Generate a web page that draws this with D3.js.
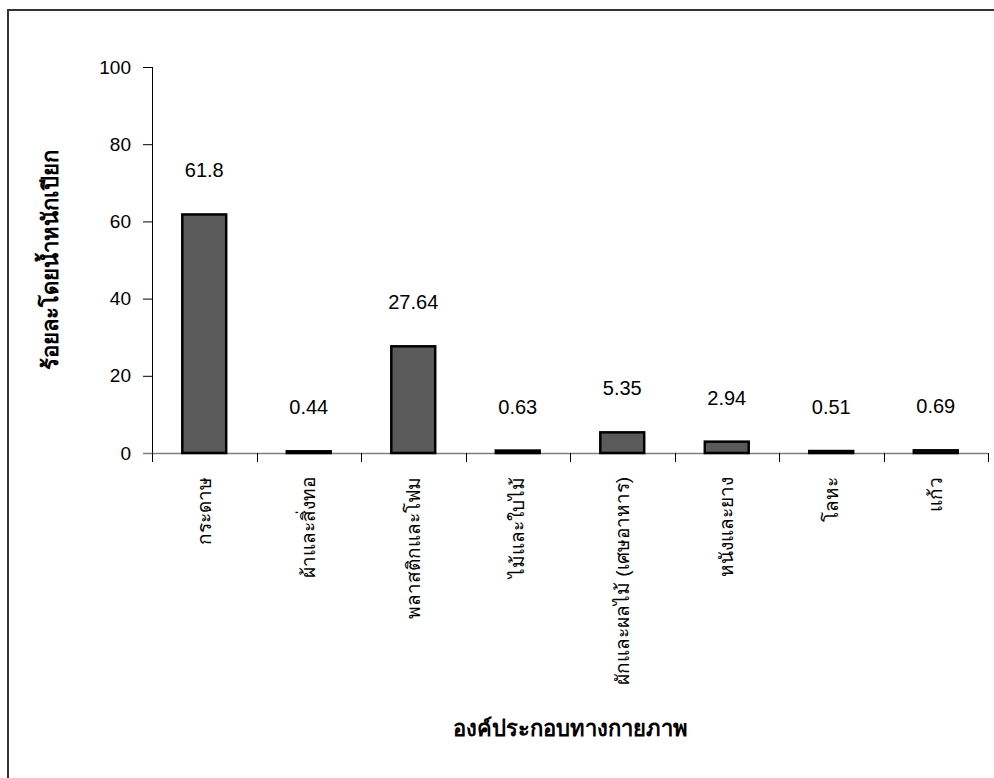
<!DOCTYPE html>
<html>
<head>
<meta charset="utf-8">
<script src="https://cdn.jsdelivr.net/npm/d3@7"></script>
<style>
  body { margin: 0; background: #fff; overflow: hidden; }
  svg { display: block; }
  text { font-family: "Liberation Sans", Arial, "Noto Sans", sans-serif; fill: #000; }
</style>
</head>
<body>
<script>
// categories and values (percent by wet weight)
var categories = ["กระดาษ", "ผ้าและสิ่งทอ", "พลาสติกและโฟม", "ไม้และใบไม้",
                  "ผักและผลไม้ (เศษอาหาร)", "หนังและยาง", "โลหะ", "แก้ว"];
var values = [61.8, 0.44, 27.64, 0.63, 5.35, 2.94, 0.51, 0.69];
var labels = ["61.8", "0.44", "27.64", "0.63", "5.35", "2.94", "0.51", "0.69"];
var yTicks = [0, 20, 40, 60, 80, 100];

var width = 994, height = 778;

var svg = d3.select("body").append("svg")
    .attr("width", width)
    .attr("height", height);

// outer frame (runs off the right and bottom edges)
svg.append("rect")
    .attr("x", 8).attr("y", 10)
    .attr("width", 1100).attr("height", 900)
    .attr("fill", "none")
    .attr("stroke", "#333")
    .attr("stroke-width", 2);

// scales
var x = d3.scaleBand().domain(categories).range([152, 988]);
var y = d3.scaleLinear().domain([0, 100]).range([453, 67]);
var barW = x.bandwidth() * 0.42;

// y axis
var yAxis = svg.append("g")
    .attr("transform", "translate(152,0)")
    .call(d3.axisLeft(y).tickValues(yTicks).tickSize(9).tickPadding(12));
yAxis.select(".domain").remove();
yAxis.selectAll("text").style("font-size", "19px").attr("fill", "#222");
yAxis.selectAll("line").attr("stroke", "#000");
svg.append("line")
    .attr("x1", 152.5).attr("x2", 152.5)
    .attr("y1", y(100)).attr("y2", y(0) + 9)
    .attr("stroke", "#000");

// x axis (gray line with boundary ticks)
svg.append("line")
    .attr("x1", 143).attr("x2", 988)
    .attr("y1", y(0) + 0.5).attr("y2", y(0) + 0.5)
    .attr("stroke", "#808080")
    .attr("stroke-width", 1.5);
var bounds = categories.map(function(c) { return x(c); }).concat([x.range()[1]]);
svg.selectAll(".xtick")
    .data(bounds)
  .enter().append("line")
    .attr("class", "xtick")
    .attr("x1", function(d) { return Math.round(d) + 0.5; })
    .attr("x2", function(d) { return Math.round(d) + 0.5; })
    .attr("y1", y(0))
    .attr("y2", y(0) + 9)
    .attr("stroke", "#000");

// bars
svg.selectAll(".bar")
    .data(values)
  .enter().append("rect")
    .attr("class", "bar")
    .attr("x", function(d, i) { return x(categories[i]) + x.bandwidth() / 2 - barW / 2; })
    .attr("y", function(d) { return y(d); })
    .attr("width", barW)
    .attr("height", function(d) { return y(0) - y(d); })
    .attr("fill", "#5a5a5a")
    .attr("stroke", "#000")
    .attr("stroke-width", 2.5);

// value labels
svg.selectAll(".val")
    .data(values)
  .enter().append("text")
    .attr("class", "val")
    .attr("x", function(d, i) { return x(categories[i]) + x.bandwidth() / 2; })
    .attr("y", function(d) { return y(d) - 44; })
    .attr("dy", "0.35em")
    .attr("text-anchor", "middle")
    .style("font-size", "20px")
    .attr("fill", "#222")
    .text(function(d, i) { return labels[i]; });

// category labels, rotated
svg.selectAll(".cat")
    .data(categories)
  .enter().append("text")
    .attr("class", "cat")
    .attr("transform", function(d) {
      return "translate(" + (x(d) + x.bandwidth() / 2) + ",477) rotate(-90)";
    })
    .attr("dy", "0.35em")
    .attr("text-anchor", "end")
    .style("font-size", "19px")
    .attr("fill", "#222")
    .text(function(d) { return d; });

// axis titles
svg.append("text")
    .attr("transform", "translate(50," + (y(50)) + ") rotate(-90)")
    .attr("dy", "0.35em")
    .attr("text-anchor", "middle")
    .style("font-size", "22px")
    .style("font-weight", "bold")
    .text("ร้อยละโดยน้ำหนักเปียก");

svg.append("text")
    .attr("x", (152 + 988) / 2)
    .attr("y", 728)
    .attr("dy", "0.35em")
    .attr("text-anchor", "middle")
    .style("font-size", "22px")
    .style("font-weight", "bold")
    .text("องค์ประกอบทางกายภาพ");
</script>
</body>
</html>
